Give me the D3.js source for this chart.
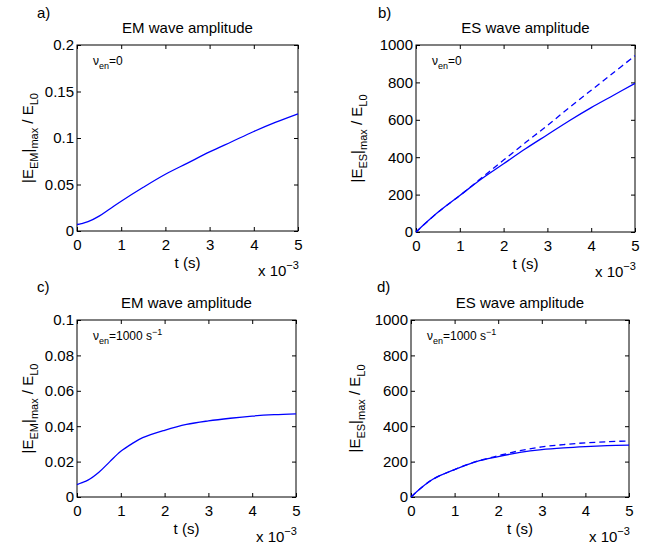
<!DOCTYPE html>
<html><head><meta charset="utf-8">
<script src="https://cdn.jsdelivr.net/npm/d3@7"></script>
<style>body{margin:0;background:#fff}svg{display:block;font-family:"Liberation Sans",Arial,sans-serif}</style>
</head><body>
<svg id="c" width="649" height="547"></svg>
<script>
const tA = [0,0.1,0.25,0.5,0.75,1,1.5,2,2.5,3,3.5,4,4.5,5];
const emA = [0.007,0.008,0.010,0.016,0.024,0.032,0.047,0.061,0.073,0.085,0.096,0.107,0.117,0.126];
const tB = [0,0.5,1,1.5,2,2.5,3,3.5,4,4.5,5];
const esSolidB = [0,105,195,285,365,445,520,595,665,730,795];
const esDashB  = [0,105,195,290,385,478,570,665,758,850,943];
const tC = [0,0.1,0.25,0.5,0.75,1,1.25,1.5,2,2.5,3,3.5,4,4.5,5];
const emC = [0.007,0.008,0.0095,0.014,0.020,0.0258,0.030,0.0335,0.0377,0.041,0.043,0.0445,0.0457,0.0465,0.047];
const tD = [0,0.25,0.5,0.75,1,1.5,2,2.5,3,3.5,4,4.5,5];
const esSolidD = [0,55,100,130,155,200,228,252,268,278,285,290,293];
const esDashD  = [0,55,100,130,155,201,233,262,283,296,306,312,317];
const xTicks = [0,1,2,3,4,5];
const yTicksA = [0,0.05,0.1,0.15,0.2];
const yTicksES = [0,200,400,600,800,1000];
const yTicksC = [0,0.02,0.04,0.06,0.08,0.1];

const svg = d3.select("#c");
const blue = "#0000ff";
const FS = 15;

function panel(o){
  const x = d3.scaleLinear().domain([0,5]).range([o.x0,o.x1]);
  const y = d3.scaleLinear().domain(o.ydom).range([o.y1,o.y0]);
  const g = svg.append("g");
  const tl = 4;
  g.append("rect").attr("x",o.x0).attr("y",o.y0).attr("width",o.x1-o.x0).attr("height",o.y1-o.y0)
    .attr("fill","none").attr("stroke","#000").attr("stroke-width",1);
  const xa = g.append("g").attr("transform",`translate(0,${o.y1})`)
    .call(d3.axisBottom(x).tickValues(xTicks).tickSizeInner(-tl).tickSizeOuter(0).tickFormat(d3.format("d")));
  const xt = g.append("g").attr("transform",`translate(0,${o.y0})`)
    .call(d3.axisTop(x).tickValues(xTicks).tickSizeInner(-tl).tickSizeOuter(0).tickFormat(""));
  const ya = g.append("g").attr("transform",`translate(${o.x0},0)`)
    .call(d3.axisLeft(y).tickValues(o.yticks).tickSizeInner(-tl).tickSizeOuter(0).tickPadding(3).tickFormat(o.yfmt));
  const yr = g.append("g").attr("transform",`translate(${o.x1},0)`)
    .call(d3.axisRight(y).tickValues(o.yticks).tickSizeInner(-tl).tickSizeOuter(0).tickFormat(""));
  [xa,xt,ya,yr].forEach(a=>{a.select(".domain").remove(); a.selectAll("line").attr("stroke","#000");
    a.selectAll("text").attr("font-size",FS).attr("fill","#000").attr("font-family","Liberation Sans, Arial, sans-serif");});
  xa.selectAll("text").attr("dy","0.71em").attr("y",8);
  const line = d3.line().x(d=>x(d[0])).y(d=>y(d[1])).curve(d3.curveCatmullRom.alpha(0.5));
  o.series.forEach(s=>{
    g.append("path").datum(s.t.map((t,i)=>[t,s.v[i]])).attr("d",line)
      .attr("fill","none").attr("stroke",blue).attr("stroke-width",1.3)
      .attr("stroke-dasharray",s.dash?"6,4":null);
  });
  const cx = (o.x0+o.x1)/2;
  g.append("text").attr("x",cx).attr("y",o.y0-12).attr("text-anchor","middle").attr("font-size",FS).text(o.title);
  g.append("text").attr("x",o.lx).attr("y",o.ly).attr("font-size",FS).text(o.letter);
  g.append("text").attr("x",cx).attr("y",o.y1+37).attr("text-anchor","middle").attr("font-size",FS).text("t (s)");
  const m = g.append("text").attr("x",o.x1-40).attr("y",o.y1+45).attr("font-size",FS);
  m.append("tspan").text("x 10");
  m.append("tspan").attr("dy",-7).attr("font-size",11).text("\u22123");
  const yl = g.append("text").attr("transform",`translate(${o.ylx},${(o.y0+o.y1)/2}) rotate(-90)`)
    .attr("text-anchor","middle").attr("font-size",FS);
  yl.append("tspan").text("|E");
  yl.append("tspan").attr("dy",5).attr("font-size",11).text(o.sub);
  yl.append("tspan").attr("dy",-5).text("|");
  yl.append("tspan").attr("dy",5).attr("font-size",11).text("max");
  yl.append("tspan").attr("dy",-5).text(" / E");
  yl.append("tspan").attr("dy",5).attr("font-size",11).text("L0");
  const an = g.append("text").attr("x",o.x0+16).attr("y",o.y0+20).attr("font-size",12);
  an.append("tspan").text("\u03bd");
  an.append("tspan").attr("dy",4).attr("font-size",9).text("en");
  an.append("tspan").attr("dy",-4).text(o.ann);
  if(o.annSup){ an.append("tspan").attr("dy",-5).attr("font-size",9).text(o.annSup); }
}

panel({x0:77,x1:298,y0:45,y1:231,ydom:[0,0.2],yticks:yTicksA,yfmt:d=>String(d),
  title:"EM wave amplitude",letter:"a)",lx:37,ly:18,ylx:33,sub:"EM",ann:"=0",
  series:[{t:tA,v:emA}]});
panel({x0:416,x1:635,y0:45,y1:232,ydom:[0,1000],yticks:yTicksES,yfmt:d3.format("d"),
  title:"ES wave amplitude",letter:"b)",lx:378,ly:18,ylx:362,sub:"ES",ann:"=0",
  series:[{t:tB,v:esSolidB},{t:tB,v:esDashB,dash:true}]});
panel({x0:77,x1:296,y0:320,y1:497,ydom:[0,0.1],yticks:yTicksC,yfmt:d=>String(d),
  title:"EM wave amplitude",letter:"c)",lx:37,ly:292,ylx:33,sub:"EM",ann:"=1000 s",annSup:"\u22121",
  series:[{t:tC,v:emC}]});
panel({x0:411,x1:629,y0:320,y1:497,ydom:[0,1000],yticks:yTicksES,yfmt:d3.format("d"),
  title:"ES wave amplitude",letter:"d)",lx:377,ly:292,ylx:360,sub:"ES",ann:"=1000 s",annSup:"\u22121",
  series:[{t:tD,v:esSolidD},{t:tD,v:esDashD,dash:true}]});
</script>
</body></html>
